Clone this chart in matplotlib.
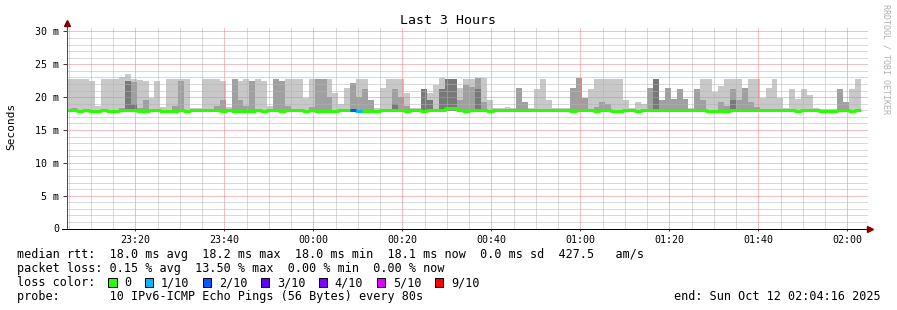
import numpy as np
import matplotlib
matplotlib.use("Agg")
import matplotlib.pyplot as plt
from matplotlib.patches import Rectangle
from matplotlib.ticker import MultipleLocator, FuncFormatter

plt.rcParams['font.family'] = ['DejaVu Sans Mono']

# time axis in minutes after 23:00, one sample every 80 s
start_min = 4 + 16 / 60
step_min = 80 / 60

# smoke: top of the lightest band (max ping), medium band, dark band (ms)
rtt_max = [
    22.8, 22.8, 22.8, 22.8, 22.5, 18.6, 22.8, 22.8, 22.8, 23.0,
    23.5, 22.8, 22.6, 22.5, 19.8, 22.5, 18.5, 22.8, 22.8, 22.8,
    22.8, 18.3, 18.3, 22.8, 22.8, 22.8, 22.5, 18.5, 22.8, 22.5,
    22.8, 22.4, 22.8, 22.5, 18.6, 22.8, 22.5, 22.8, 22.8, 22.7,
    19.8, 22.8, 22.8, 22.8, 22.8, 20.6, 19.0, 21.4, 22.1, 22.8,
    22.8, 19.6, 18.4, 21.4, 22.8, 22.8, 22.8, 20.6, 18.4, 18.3,
    21.3, 20.6, 21.9, 22.9, 22.8, 22.8, 21.4, 22.8, 22.8, 22.9,
    22.9, 19.6, 18.3, 18.3, 18.45, 18.4, 21.4, 19.3, 18.35, 21.3,
    22.8, 19.6, 18.3, 18.35, 18.3, 21.4, 22.9, 19.8, 21.3, 22.8,
    22.8, 22.8, 22.8, 22.8, 19.6, 18.3, 19.3, 19.0, 21.4, 22.8,
    19.6, 21.4, 19.7, 21.3, 19.7, 18.3, 21.3, 22.8, 22.8, 20.8,
    21.7, 22.8, 22.8, 22.8, 21.4, 22.8, 22.8, 19.8, 21.4, 22.8,
    19.9, 18.3, 21.3, 19.7, 21.3, 20.3, 18.4, 18.2, 18.2, 18.2,
    21.3, 19.3, 21.3, 22.8,
]
# 0 = no medium band in that step
rtt_mid = [
    0, 18.4, 0, 0, 0, 0, 0, 0, 0, 18.4,
    22.5, 22.3, 18.4, 19.6, 0, 0, 0, 0, 18.7, 22.5,
    0, 0, 0, 0, 0, 18.6, 19.6, 0, 22.8, 19.6,
    18.6, 22.4, 0, 0, 0, 22.8, 22.5, 18.6, 0, 0,
    0, 18.5, 22.8, 22.8, 20.0, 0, 0, 0, 22.1, 20.0,
    21.3, 19.6, 0, 0, 0, 21.3, 20.0, 18.6, 0, 0,
    21.3, 19.6, 0, 21.3, 22.8, 22.8, 19.6, 21.8, 21.5, 22.9,
    19.3, 0, 0, 0, 0, 0, 21.4, 19.3, 0, 0,
    0, 0, 0, 0, 0, 21.4, 22.9, 19.8, 0, 18.5,
    19.3, 19.0, 0, 0, 0, 0, 0, 0, 21.4, 22.8,
    19.6, 21.4, 19.7, 21.3, 19.7, 0, 21.3, 19.6, 0, 0,
    19.3, 18.7, 21.2, 19.6, 21.4, 19.3, 18.5, 0, 0, 0,
    0, 0, 0, 0, 0, 0, 0, 0, 0, 0,
    21.3, 19.3, 0, 0,
]
dark_idx = [10, 11, 55, 60, 61, 63, 64, 65, 69, 99, 112]
dark_top = [22.5, 19.0, 19.0, 21.3, 19.6, 21.3, 22.8, 22.8, 21.3, 22.8, 19.6]

rtt_median = [
    18.0, 18.0, 17.9, 18.0, 17.9, 17.9, 18.0, 17.9, 17.9, 18.0,
    18.0, 18.0, 17.9, 17.9, 18.0, 18.0, 17.9, 17.9, 17.9, 18.0,
    17.9, 18.0, 18.0, 18.0, 18.0, 18.0, 17.9, 18.0, 17.9, 17.9,
    17.9, 17.9, 18.0, 17.9, 18.0, 18.0, 17.9, 18.0, 18.0, 18.0,
    17.9, 18.0, 17.9, 17.9, 17.9, 17.9, 18.0, 18.0, 18.0, 17.9,
    17.9, 17.9, 17.9, 18.0, 18.0, 18.0, 18.0, 17.9, 18.0, 18.0,
    17.9, 18.0, 18.0, 18.1, 18.3, 18.3, 18.0, 17.9, 18.0, 18.0,
    18.0, 17.9, 18.0, 18.0, 18.0, 18.0, 18.0, 18.0, 18.0, 18.0,
    18.0, 18.0, 18.0, 18.0, 18.0, 17.9, 18.0, 18.0, 18.0, 17.9,
    18.0, 18.0, 17.9, 17.9, 18.0, 18.0, 17.9, 18.0, 18.0, 18.0,
    18.0, 18.0, 18.0, 18.0, 18.0, 18.0, 18.0, 18.0, 17.9, 17.9,
    17.9, 17.9, 18.0, 18.0, 18.0, 18.0, 18.0, 18.0, 18.0, 18.0,
    18.0, 18.0, 18.0, 17.9, 18.0, 18.0, 18.0, 17.9, 17.9, 17.9,
    18.0, 18.0, 17.9, 18.0,
]
# lost pings (out of 10) where not zero
loss_idx = [48, 49]
loss_val = [2, 1]

loss_levels = [0, 1, 2, 3, 4, 5, 9]
loss_labels = ['0', '1/10', '2/10', '3/10', '4/10', '5/10', '9/10']
loss_colors = ['#26ff00', '#00b8ff', '#0059ff', '#5e00ff', '#7e00ff', '#dd00ff', '#ff0000']

legend_lines = [
    'median rtt:  18.0 ms avg  18.2 ms max  18.0 ms min  18.1 ms now  0.0 ms sd  427.5   am/s',
    'packet loss: 0.15 % avg  13.50 % max  0.00 % min  0.00 % now',
    'loss color:',
    'probe:       10 IPv6-ICMP Echo Pings (56 Bytes) every 80s',
]
end_text = 'end: Sun Oct 12 02:04:16 2025'

W, H = 897, 310
PX = 0.72  # one pixel in points


def fx(px):
    return px / W


def fy(py):
    return 1 - py / H


fig = plt.figure(figsize=(W / 100, H / 100), dpi=100)
ax = fig.add_axes([fx(66.5), fy(228.5), 801 / W, 201.5 / H])
ax.set_xlim(4.5, 184.5)
ax.set_ylim(0, 30.68)

n = len(rtt_max)
edges = start_min + step_min * np.arange(n + 1)
base = 17.85


def stepify(a):
    a = np.asarray(a, dtype=float)
    return np.append(a, a[-1])


hi = np.array(rtt_max)
mid = np.array(rtt_mid, dtype=float)
mid[mid == 0] = base
dark = np.full(n, base)
dark[dark_idx] = dark_top

ax.fill_between(edges, base, stepify(hi), step='post', color='#c8c8c8', lw=0, zorder=1)
ax.fill_between(edges, base, stepify(mid), step='post', color='#a0a0a0', lw=0, zorder=1.1)
ax.fill_between(edges, base, stepify(dark), step='post', color='#787878', lw=0, zorder=1.2)

med = np.array(rtt_median)
ax.step(edges, stepify(med), where='post', color=loss_colors[0], lw=3 * PX, zorder=4,
        solid_capstyle='butt')
for i, l in zip(loss_idx, loss_val):
    ax.hlines(med[i], edges[i], edges[i + 1], color=loss_colors[loss_levels.index(l)],
              lw=3 * PX, zorder=5)

# grid, drawn over the smoke like rrdtool does
ax.xaxis.set_major_locator(MultipleLocator(20))
ax.xaxis.set_minor_locator(MultipleLocator(5))
ax.yaxis.set_major_locator(MultipleLocator(5))
ax.yaxis.set_minor_locator(MultipleLocator(1))
ax.set_axisbelow(False)
ax.grid(which='minor', color='#b4b4b4', lw=PX, ls=(0, (1, 1)))
ax.grid(which='major', color='#ec8080', lw=PX, ls=(0, (1, 1)))

ax.yaxis.set_major_formatter(FuncFormatter(lambda v, p: '0' if v == 0 else '%d m' % v))
ax.xaxis.set_major_formatter(
    FuncFormatter(lambda m, p: '%02d:%02d' % ((23 + int(m) // 60) % 24, int(m) % 60)))
ax.tick_params(which='minor', length=0)
ax.tick_params(axis='y', which='major', length=4 * PX, width=PX, color='#404040',
               pad=2.5, labelsize=7.2)
ax.tick_params(axis='x', which='major', length=2 * PX, width=PX, color='#404040',
               pad=3.0, labelsize=7.2)

for s in ax.spines.values():
    s.set_visible(False)
ax.plot([0, 0], [0, 1.012], transform=ax.transAxes, color='#505050', lw=PX,
        clip_on=False, zorder=6)
ax.plot([-0.005, 1.001], [0, 0], transform=ax.transAxes, color='black', lw=PX,
        clip_on=False, zorder=6)
ax.plot([0], [1.02], marker='^', ms=4.3, color='#800000', transform=ax.transAxes,
        clip_on=False, zorder=7)
ax.plot([1.0037], [0], marker='>', ms=4.3, color='#800000', transform=ax.transAxes,
        clip_on=False, zorder=7)

# titles and side texts
fig.text(fx(448), fy(24), 'Last 3 Hours', ha='center', va='baseline', fontsize=9.5)
fig.text(fx(11), fy(126), 'Seconds', rotation=90, ha='center', va='center', fontsize=8)
fig.text(fx(886), fy(59), 'RRDTOOL / TOBI OETIKER', rotation=270, ha='center',
         va='center', fontsize=6, color='#b0b0b0')

# legend block
for k, line in enumerate(legend_lines):
    fig.text(fx(16.5), fy(258 + 14 * k), line, ha='left', va='baseline', fontsize=8.5)
fig.text(fx(880.5), fy(300), end_text, ha='right', va='baseline', fontsize=8.5)

bx = 108.3
for lab, col in zip(loss_labels, loss_colors):
    fig.add_artist(Rectangle((fx(bx), fy(286.7)), 8.3 / W, 8.4 / H, facecolor=col,
                             edgecolor='black', lw=PX, transform=fig.transFigure))
    fig.text(fx(bx + 15.7), fy(286), lab, ha='left', va='baseline', fontsize=8.5)
    bx += 15.7 + 7.05 * (len(lab) + 2)

fig.savefig('out.png', dpi=100)
